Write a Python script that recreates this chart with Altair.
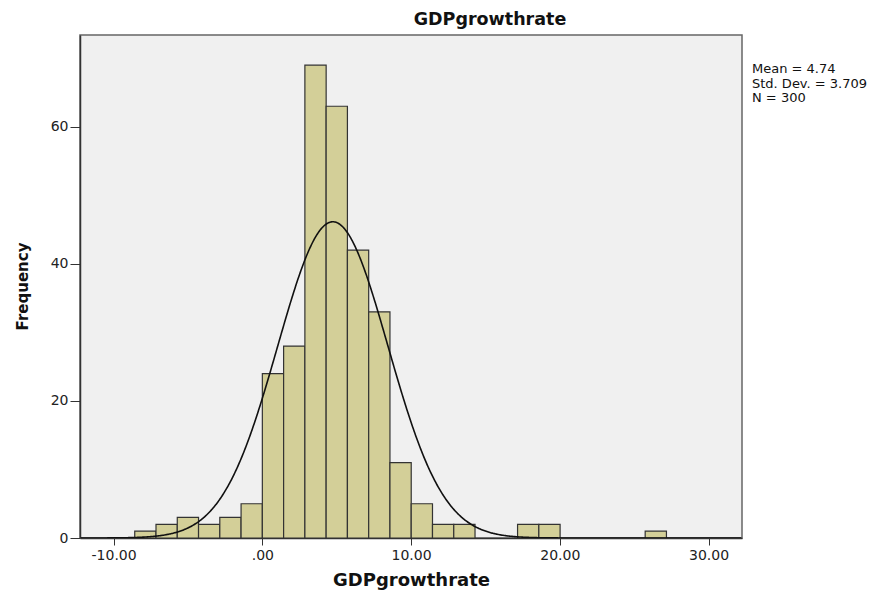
import altair as alt
import pandas as pd

# Histogram bins (left edges) and counts
bin_width = 1.43
bin_starts = [-8.58, -7.15, -5.72, -4.29, -2.86, -1.43, 0.00, 1.43, 2.86, 4.29,
              5.72, 7.15, 8.58, 10.01, 11.44, 12.87, 14.30, 15.73, 17.16, 18.59,
              20.02, 21.45, 22.88, 24.31, 25.74]
counts = [1, 2, 3, 2, 3, 5, 24, 28, 69, 63,
          42, 33, 11, 5, 2, 2, 0, 0, 2, 2,
          0, 0, 0, 0, 1]

mean_val = 4.74
sd_val = 3.709
n_val = 300

x_ticks = [-10, 0, 10, 20, 30]
y_ticks = [0, 20, 40, 60]
stats_lines = ["Mean = 4.74", "Std. Dev. = 3.709", "N = 300"]

x_domain = [-12.26, 32.25]
y_domain = [0, 73.4]

df = pd.DataFrame({
    "start": bin_starts,
    "end": [s + bin_width for s in bin_starts],
    "count": counts,
})
df = df[df["count"] > 0]

W, H = 662, 503

x_scale = alt.Scale(domain=x_domain, nice=False, zero=False)
y_scale = alt.Scale(domain=y_domain, nice=False, zero=False)

x_axis = alt.Axis(
    values=x_ticks,
    labelExpr="datum.value == 0 ? '.00' : toString(datum.value) + '.00'",
    title="GDPgrowthrate",
    grid=False,
    tickSize=7,
    tickColor="#333333",
    domainColor="#333333",
    domainWidth=1.5,
    labelPadding=3,
    labelFont="DejaVu Sans",
    labelFontSize=14,
    labelColor="#222222",
    titleFont="DejaVu Sans",
    titleFontSize=18,
    titleFontWeight="bold",
    titleColor="#111111",
    titleBaseline="alphabetic",
    titleY=47,
)

y_axis = alt.Axis(
    values=y_ticks,
    title="Frequency",
    grid=False,
    tickSize=10,
    tickColor="#333333",
    domainColor="#333333",
    domainWidth=1.5,
    labelPadding=2,
    labelFont="DejaVu Sans",
    labelFontSize=14,
    labelColor="#222222",
    titleFont="DejaVu Sans",
    titleFontSize=15,
    titleFontWeight="bold",
    titleColor="#111111",
    titleX=-50,
    titleY=251,
    titleBaseline="bottom",
)

bars = alt.Chart(df).mark_bar(
    color="#D3CF98", stroke="#333333", strokeWidth=1.2, opacity=1
).encode(
    x=alt.X("start:Q", scale=x_scale, axis=x_axis),
    x2="end:Q",
    y=alt.Y("count:Q", scale=y_scale, axis=y_axis),
    y2=alt.datum(0),
)

peak = n_val * bin_width / (sd_val * (2 * 3.141592653589793) ** 0.5)
curve = alt.Chart(alt.sequence(-12.2, 32.2, 0.05, as_="x")).transform_calculate(
    y=f"{peak} * exp(-0.5 * pow((datum.x - {mean_val}) / {sd_val}, 2))"
).mark_line(color="#111111", strokeWidth=1.6, clip=True).encode(
    x=alt.X("x:Q", scale=x_scale),
    y=alt.Y("y:Q", scale=y_scale),
)

stats = alt.Chart(pd.DataFrame({"t": [0]})).mark_text(
    align="left", baseline="alphabetic", font="DejaVu Sans", fontSize=13,
    lineHeight=14.5, color="#111111"
).encode(
    x=alt.value(672),
    y=alt.value(38),
    text=alt.value(stats_lines),
)

title_df = pd.DataFrame({"t": ["GDPgrowthrate"]})
title_mark = alt.Chart(title_df).mark_text(
    align="center", baseline="alphabetic", font="DejaVu Sans", fontSize=17.5,
    fontWeight="bold", color="#111111"
).encode(
    x=alt.value(W / 2 + 79),
    y=alt.value(-10),
    text="t:N",
)

chart = alt.layer(bars, curve, stats, title_mark).properties(
    width=W,
    height=H,
    autosize=alt.AutoSizeParams(type="none"),
    padding={"left": 72, "top": 27, "right": 137, "bottom": 52},
    background="white",
).configure_view(
    fill="#F0F0F0", stroke="#666666", strokeWidth=1.5
)

chart.save("out.html", embed_options={"renderer": "svg", "actions": False})
